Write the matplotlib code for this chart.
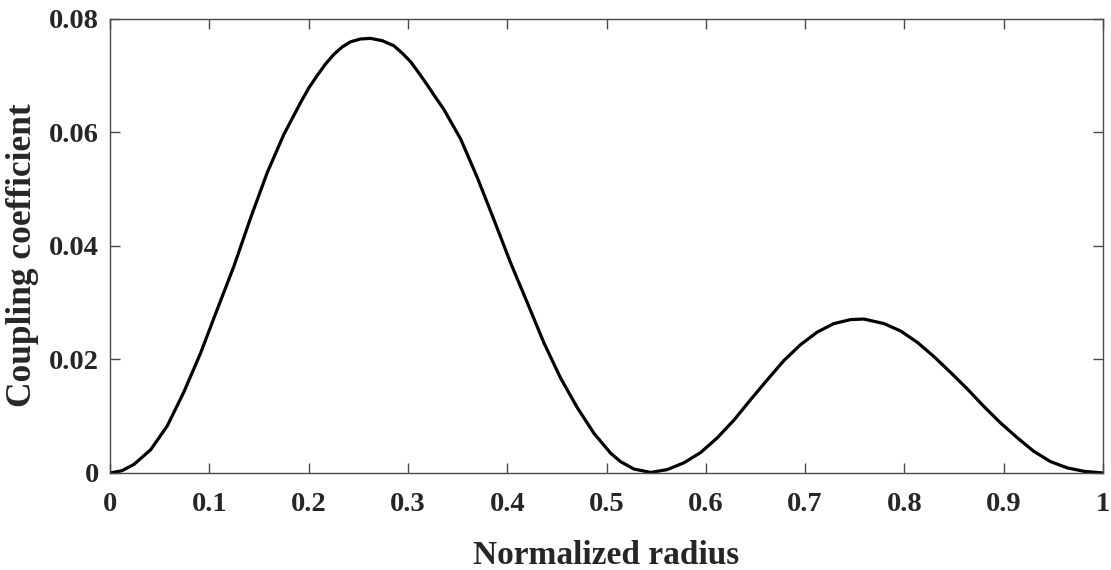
import matplotlib
matplotlib.use("Agg")
import matplotlib.pyplot as plt

# Data
radius = [0.0, 0.012, 0.024, 0.041, 0.0577, 0.0745, 0.0912, 0.108, 0.1248, 0.1416, 0.1584,
          0.1751, 0.1919, 0.2003, 0.2088, 0.2171, 0.2255, 0.2339, 0.2423, 0.2524,
          0.2624, 0.2741, 0.2859, 0.2943, 0.3027, 0.3111, 0.3195, 0.3279,
          0.3362, 0.3531, 0.3699, 0.3866, 0.4034, 0.4202, 0.437, 0.4538, 0.4706,
          0.4873, 0.5041, 0.5142, 0.5276, 0.5444, 0.5612, 0.578, 0.5948, 0.6116,
          0.6283, 0.6451, 0.6619, 0.6787, 0.6955, 0.7122, 0.729, 0.7458, 0.7592,
          0.7794, 0.7962, 0.813, 0.8297, 0.8465, 0.8633, 0.8801, 0.8969, 0.9137,
          0.9304, 0.9472, 0.964, 0.9808, 1.0]
coupling = [0.0, 0.0004, 0.0015, 0.0041, 0.0083, 0.0143, 0.0211, 0.0288, 0.0364, 0.0449, 0.0529,
            0.0596, 0.0652, 0.0678, 0.0700, 0.0720, 0.0737, 0.0750, 0.0759, 0.0764,
            0.0765, 0.0761, 0.0752, 0.0739, 0.0724, 0.0704, 0.0683, 0.0661,
            0.0640, 0.0588, 0.0520, 0.0446, 0.0370, 0.0300, 0.0229, 0.0167, 0.0115,
            0.0070, 0.0035, 0.0020, 0.0007, 0.0001, 0.0006, 0.0018, 0.0036, 0.0062,
            0.0093, 0.0129, 0.0164, 0.0198, 0.0226, 0.0248, 0.0263, 0.0270, 0.0271,
            0.0263, 0.0250, 0.0230, 0.0205, 0.0177, 0.0148, 0.0117, 0.0088, 0.0062,
            0.0038, 0.0020, 0.0009, 0.0003, 0.0]

x_ticks = [0, 0.1, 0.2, 0.3, 0.4, 0.5, 0.6, 0.7, 0.8, 0.9, 1]
x_tick_labels = ["0", "0.1", "0.2", "0.3", "0.4", "0.5", "0.6", "0.7", "0.8", "0.9", "1"]
y_ticks = [0, 0.02, 0.04, 0.06, 0.08]
y_tick_labels = ["0", "0.02", "0.04", "0.06", "0.08"]
x_label = "Normalized radius"
y_label = "Coupling coefficient"

plt.rcParams['font.family'] = ['Liberation Serif', 'DejaVu Serif']
plt.rcParams['font.weight'] = 'bold'

fig = plt.figure(figsize=(11.11, 5.70), dpi=100)
ax = fig.add_axes([110/1111, 1 - 473/570, (1103-110)/1111, (473-18.5)/570])

ax.plot(radius, coupling, color='black', linewidth=2.3,
        solid_capstyle='round', solid_joinstyle='round')

ax.set_xlim(0, 1)
ax.set_ylim(0, 0.08)
ax.set_xticks(x_ticks)
ax.set_xticklabels(x_tick_labels)
ax.set_yticks(y_ticks)
ax.set_yticklabels(y_tick_labels)

axis_color = '#4a4a4a'
for s in ax.spines.values():
    s.set_color(axis_color)
    s.set_linewidth(1.0)
ax.tick_params(axis='both', which='both', direction='in', length=7, width=1.0,
               color=axis_color, top=True, right=True, labelsize=20.5,
               labelcolor='#262626')
ax.tick_params(axis='x', pad=14)
ax.tick_params(axis='y', pad=8)
for lab in ax.get_xticklabels() + ax.get_yticklabels():
    lab.set_fontweight('bold')

ax.set_xlabel(x_label, fontsize=24, fontweight='bold', color='#262626', labelpad=16)
ax.set_ylabel(y_label, fontsize=25.5, fontweight='bold', color='#262626')
ax.yaxis.set_label_coords(-0.071, 0.48)

fig.savefig("out.png", dpi=100)
